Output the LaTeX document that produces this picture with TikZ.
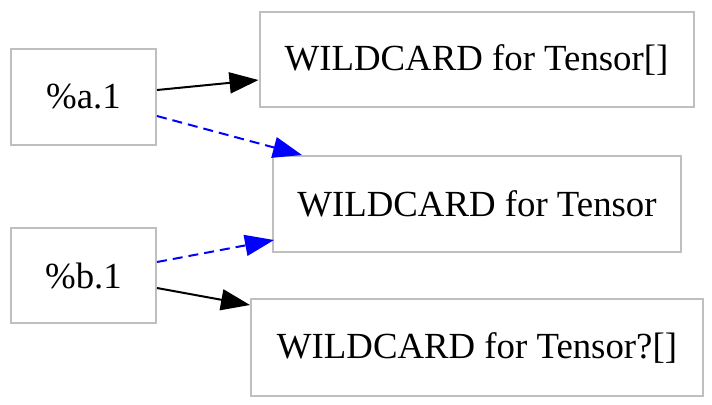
\documentclass[tikz,border=0pt]{standalone}
\usepackage{fontspec}
\setmainfont{Liberation Serif}
\usetikzlibrary{arrows.meta}

\tikzset{
  caja/.style={draw=black!25, line width=1pt, rectangle, inner sep=0pt,
    font=\fontsize{18.4}{22}\selectfont},
  flecha/.style={-{Triangle[length=14.5pt, width=10.5pt]}, line width=1pt},
  comodin/.style={flecha, blue, dash pattern=on 5pt off 3pt}
}

\begin{document}
\begin{tikzpicture}[x=0.5pt, y=-0.5pt]
    \useasboundingbox (0,0) rectangle (712,404);

    % Variables
    \node[caja, minimum width=72.5pt, minimum height=48pt] (a) at (83.5,97) {\%a.1};
    \node[caja, minimum width=72.5pt, minimum height=47.5pt] (b) at (83.5,275.5) {\%b.1};

    % Tipos
    \node[caja, minimum width=217pt, minimum height=47.5pt] (tl) at (476.5,59.5) {WILDCARD for Tensor[]};
    \node[caja, minimum width=204pt, minimum height=48pt] (t) at (477,204) {WILDCARD for Tensor};
    \node[caja, minimum width=226pt, minimum height=48.5pt] (to) at (477,347.5) {WILDCARD for Tensor?[]};

    % Aristas
    \draw[flecha] ([yshift=3.5pt]a.east) -- ([yshift=-10.25pt]tl.west);
    \draw[comodin] ([yshift=-9.5pt]a.east) -- ([xshift=15pt]t.north west);
    \draw[comodin] ([yshift=6.75pt]b.east) -- ([xshift=1pt, yshift=6.5pt]t.south west);
    \draw[flecha] ([yshift=-6.25pt]b.east) -- ([yshift=-3.5pt]to.north west);
\end{tikzpicture}
\end{document}
